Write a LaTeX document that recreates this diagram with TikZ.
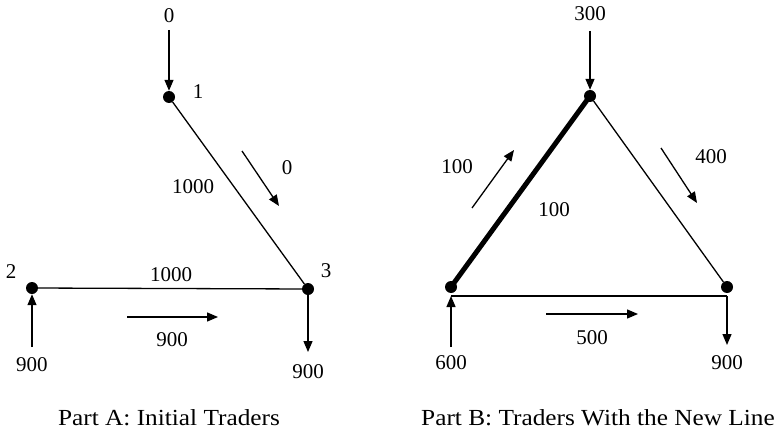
\documentclass[tikz,border=0pt]{standalone}
\usepackage{fontspec}
\setmainfont{Liberation Serif}
\newfontfamily\capfont[FakeStretch=1.1]{Liberation Serif}
\usetikzlibrary{arrows.meta}
\begin{document}
\begin{tikzpicture}[x=1pt,y=-1pt,
  dot/.style={circle,fill=black,inner sep=0pt,minimum size=12pt},
  lbl/.style={font=\fontsize{21}{25}\selectfont,inner sep=0pt},
  captxt/.style={font=\capfont\fontsize{23}{27}\selectfont,inner sep=0pt},
  edge/.style={line width=1.3pt},
  heavy/.style={line width=5pt,line cap=round},
  arr/.style={line width=1.3pt,-{Triangle[length=11pt,width=9pt]}}]
\useasboundingbox (0,0) rectangle (775,433);
% ---------- Part A ----------
\node[dot] (a1) at (169,97) {};
\node[dot] (a2) at (32,288) {};
\node[dot] (a3) at (308,289) {};
\coordinate (a1in) at (169,30);
\coordinate (a2in) at (32,347);
\coordinate (a3out) at (308,352);
\draw[edge] (a1) -- (a3);
\draw[edge] (a2) -- (a3);
\draw[arr] (a1in) -- (a1);
\draw[arr] (a2in) -- (a2);
\draw[arr] (a3) -- (a3out);
\coordinate (fa1) at (242,151); \coordinate (fa2) at (279,206);
\draw[arr] (fa1) -- (fa2);
\coordinate (fb1) at (127,317); \coordinate (fb2) at (218,317);
\draw[arr] (fb1) -- (fb2);
\node[lbl] (t0) at (169,16) {0};
\node[lbl] (t1) at (198,92) {1};
\node[lbl] (t2) at (11,272) {2};
\node[lbl] (t3) at (326,271) {3};
\node[lbl] (c13) at (193,187) {1000};
\node[lbl] (f13) at (287,168) {0};
\node[lbl] (c23) at (171,275) {1000};
\node[lbl] (f23) at (172,340) {900};
\node[lbl] (s2) at (32,365) {900};
\node[lbl] (d3) at (308,372) {900};
\node[captxt] (capA) at (169,418) {Part A: Initial Traders};
% ---------- Part B ----------
\node[dot] (b1) at (590,96) {};
\node[dot] (b2) at (451,287) {};
\node[dot] (b3) at (727,287) {};
\coordinate (b1in) at (590,31);
\coordinate (b2l) at (451,296);
\coordinate (b3l) at (727,296);
\coordinate (b2in) at (451,347);
\coordinate (b3out) at (727,345);
\draw[heavy] (b1.center) -- (b2.center);
\draw[edge] (b1) -- (b3);
\draw[edge] (b2l) -- (b3l);
\draw[arr] (b1in) -- (b1);
\draw[arr] (b2in) -- (b2l);
\draw[arr] (b3l) -- (b3out);
\coordinate (ga1) at (472,208); \coordinate (ga2) at (514,150);
\draw[arr] (ga1) -- (ga2);
\coordinate (gb1) at (661,148); \coordinate (gb2) at (697,203);
\draw[arr] (gb1) -- (gb2);
\coordinate (gc1) at (546,314); \coordinate (gc2) at (638,314);
\draw[arr] (gc1) -- (gc2);
\node[lbl] (u0) at (590,14) {300};
\node[lbl] (g12) at (457,167) {100};
\node[lbl] (c12) at (554,210) {100};
\node[lbl] (g13) at (711,157) {400};
\node[lbl] (g23) at (592,338) {500};
\node[lbl] (s2b) at (451,363) {600};
\node[lbl] (d3b) at (727,363) {900};
\node[captxt] (capB) at (598,418) {Part B: Traders With the New Line};
\end{tikzpicture}
\end{document}
